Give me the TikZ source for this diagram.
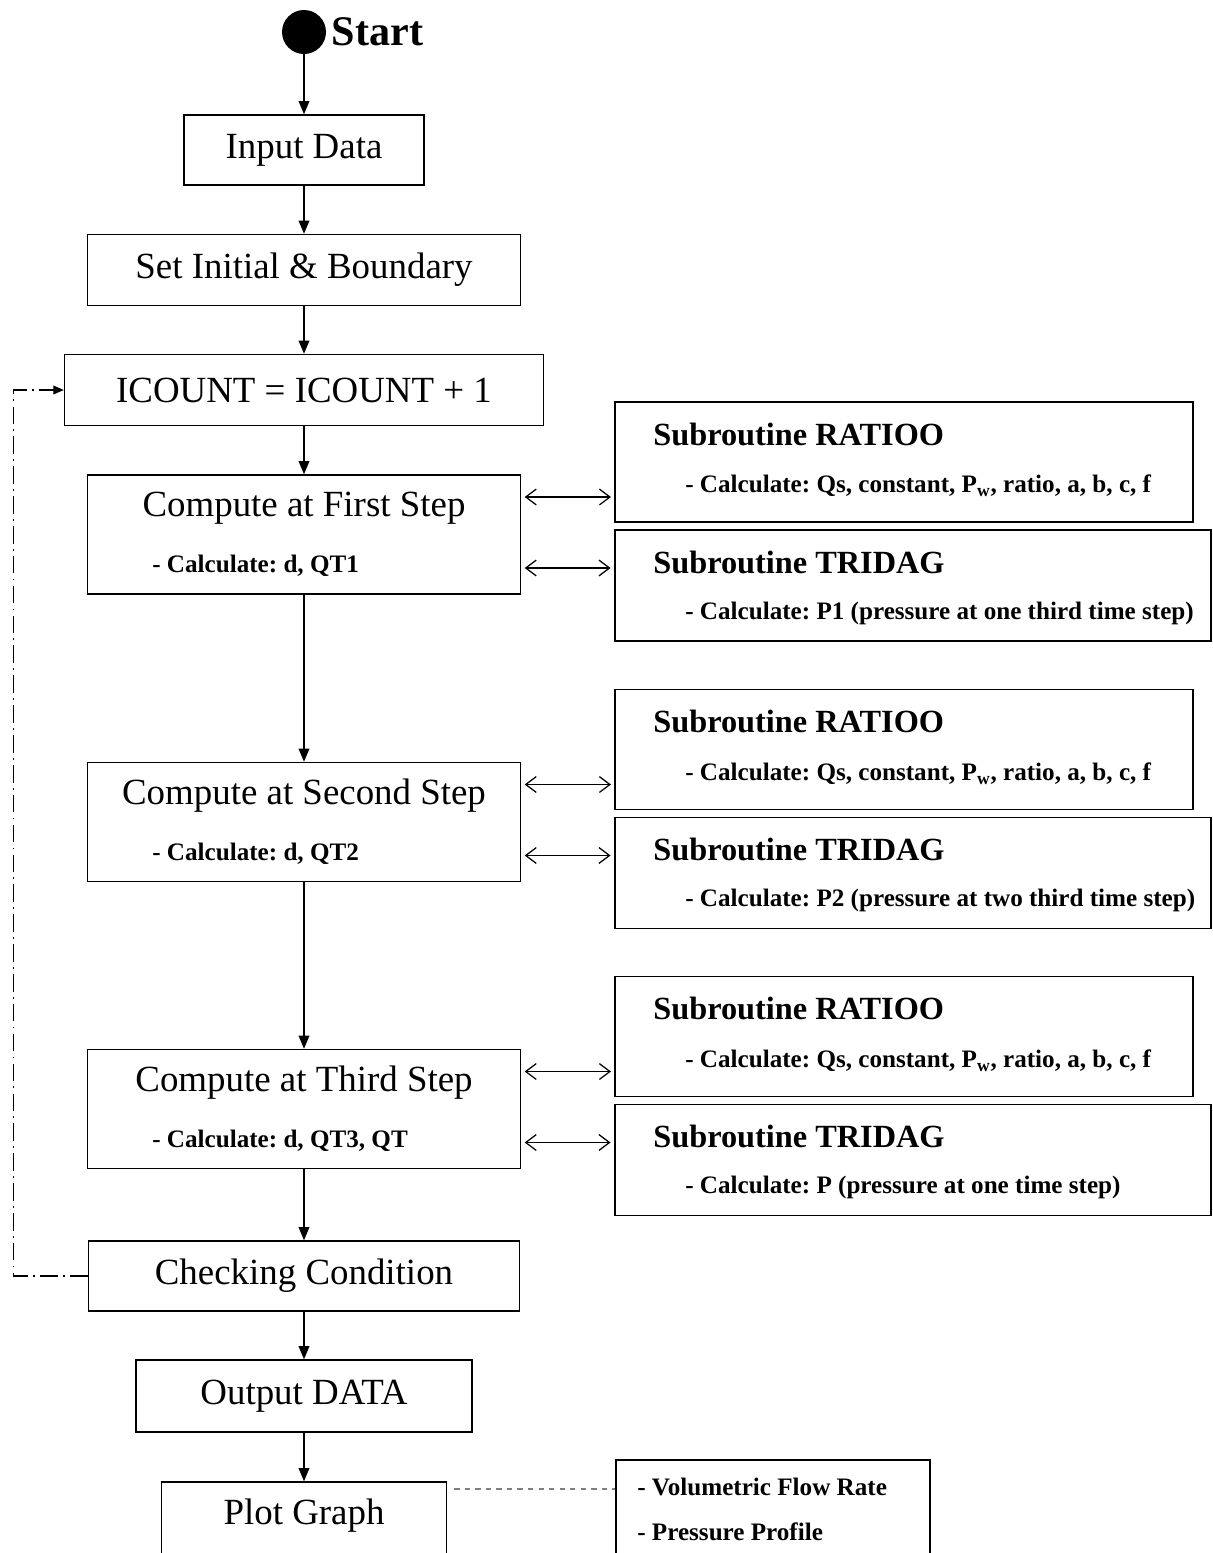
\documentclass[tikz,border=0pt]{standalone}
\usepackage{fontspec}
\setmainfont{Liberation Serif}
\usetikzlibrary{arrows.meta, positioning}
\frenchspacing

\begin{document}
\begin{tikzpicture}[x=0.02cm, y=-0.02cm,
  box/.style={draw, line width=0.8pt, inner sep=0pt},
  subbox/.style={draw, line width=0.6pt, inner sep=0pt},
  tribox/.style={draw, line width=1.1pt, inner sep=0pt},
  big/.style={font=\fontsize{21}{25}\selectfont},
  head/.style={font=\bfseries\fontsize{18.4}{22}\selectfont, anchor=west, inner sep=0pt},
  calc/.style={font=\bfseries\fontsize{14.3}{17}\selectfont, anchor=west, inner sep=0pt},
  flow/.style={-{Triangle[length=7.5pt,width=6pt]}, line width=1pt},
  link/.style={{Straight Barb[length=6pt,width=9pt]}-{Straight Barb[length=6pt,width=9pt]}, line width=0.7pt, shorten <=2pt, shorten >=2pt}]
  \clip (0,0) rectangle (1213,1553);

  \node[circle, fill, minimum size=44*0.02cm, inner sep=0pt] (start) at (304,32) {};
  \node[anchor=west, inner sep=3pt, font=\bfseries\fontsize{24}{28}\selectfont] (starttxt) at (start.east) {Start};

  \node[box, big, minimum width=240*0.02cm, minimum height=70*0.02cm] (input) at (304,150) {Input Data};
  \node[box, big, minimum width=433*0.02cm, minimum height=71*0.02cm] (setib) at (304,270) {Set Initial \& Boundary};
  \node[box, big, minimum width=479*0.02cm, minimum height=71*0.02cm] (icount) at (304,390) {ICOUNT = ICOUNT + 1};

  % three steps, each with its two subroutines
  \foreach \n/\s/\t/\c/\p in {1/534.5/First/{d, QT1}/{P1 (pressure at one third time step)},
                               2/822/Second/{d, QT2}/{P2 (pressure at two third time step)},
                               3/1109/Third/{d, QT3, QT}/{P (pressure at one time step)}} {
    \node[box, minimum width=433*0.02cm, minimum height=119*0.02cm] (step\n) at (304,\s) {};
    \node[big] (steptitle\n) at (304,\s-26.5) {Compute at \t\ Step};
    \node[calc] (stepcalc\n) at (152,\s+31.5) {- Calculate: \c};

    \node[subbox, minimum width=578*0.02cm, minimum height=120*0.02cm] (ratio\n) at (904,\s-72.5) {};
    \node[head] (ratiohead\n) at (653,\s-100.5) {Subroutine RATIOO};
    \node[calc] (ratiocalc\n) at (685,\s-48.5) {- Calculate: Qs, constant, P\textsubscript{w}, ratio, a, b, c, f};

    \node[tribox, minimum width=596*0.02cm, minimum height=111*0.02cm] (tri\n) at (913,\s+51) {};
    \node[head] (trihead\n) at (653,\s+27.5) {Subroutine TRIDAG};
    \node[calc] (tricalc\n) at (685,\s+78.5) {- Calculate: \p};

    \draw[link] (step\n.east |- 0,\s-37.5) -- (ratio\n.west |- 0,\s-37.5);
    \draw[link] (step\n.east |- 0,\s+33.5) -- (tri\n.west |- 0,\s+33.5);
  }

  \node[box, big, minimum width=431*0.02cm, minimum height=70*0.02cm] (check) at (304,1276) {Checking Condition};
  \node[box, big, minimum width=336*0.02cm, minimum height=72*0.02cm] (output) at (304,1396) {Output DATA};
  \node[box, minimum width=285*0.02cm, minimum height=78*0.02cm] (plot) at (304,1521) {};
  \node[big] (plottxt) at (304,1516) {Plot Graph};
  \node[box, minimum width=314*0.02cm, minimum height=100*0.02cm] (graphs) at (773,1510) {};
  \node[calc] (graph1) at (637,1487) {- Volumetric Flow Rate};
  \node[calc] (graph2) at (637,1532) {- Pressure Profile};

  \draw[flow] (start) -- (input);
  \draw[flow] (input) -- (setib);
  \draw[flow] (setib) -- (icount);
  \draw[flow] (icount) -- (step1);
  \draw[flow] (step1) -- (step2);
  \draw[flow] (step2) -- (step3);
  \draw[flow] (step3) -- (check);
  \draw[flow] (check) -- (output);
  \draw[flow] (output) -- (plot);

  % back to the counter
  \draw[line width=0.6pt, dash pattern=on 10pt off 3pt on 1pt off 3pt, -{Triangle[length=6pt,width=5pt]}]
    (check.west) -- ++(-74,0) |- (icount.west);
  \draw[dashed, gray, line width=0.6pt, shorten <=4pt] (plot.east |- 0,1489) -- (graphs.west |- 0,1489);
\end{tikzpicture}
\end{document}
